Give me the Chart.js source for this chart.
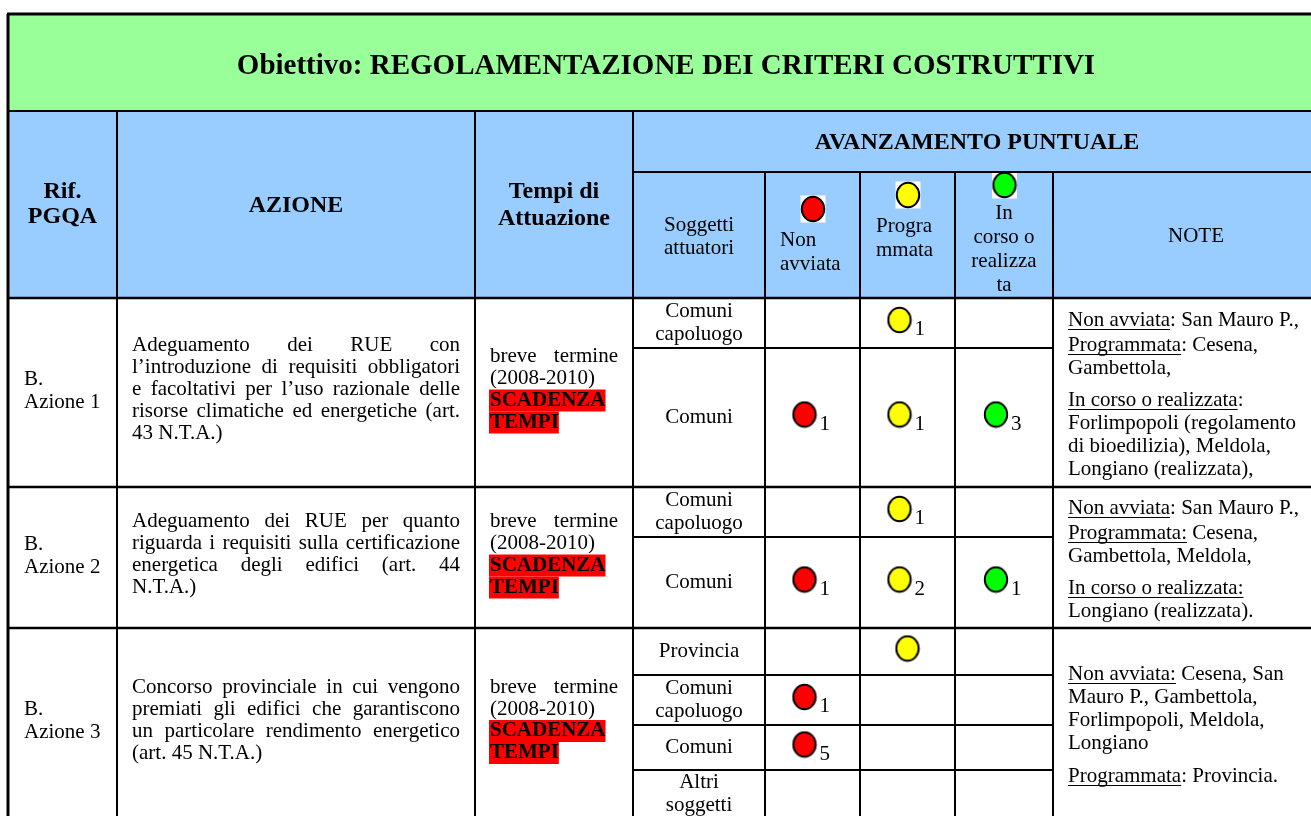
<!DOCTYPE html>
<html lang="it">
<head>
    <meta charset="UTF-8">
    <title>Obiettivo: REGOLAMENTAZIONE DEI CRITERI COSTRUTTIVI</title>
    <script src="https://cdn.jsdelivr.net/npm/chart.js"></script>
    <style>
        html, body { margin: 0; padding: 0; background: #fff; overflow: hidden; }
        .chartBox { width: 1311px; height: 816px; }
    </style>
</head>
<body>

    <div class="chartBox">
        <canvas id="myChart" width="1311" height="816"></canvas>
    </div>

    <script>

        // data block
        const title = 'Obiettivo: REGOLAMENTAZIONE DEI CRITERI COSTRUTTIVI';
        const statuses = ['Non avviata', 'Programmata', 'In corso o realizzata'];
        const statusColors = ['#ff0000', '#ffff00', '#00ff00'];

        const actionRefs = [['B.', 'Azione 1'], ['B.', 'Azione 2'], ['B.', 'Azione 3']];
        const actionTexts = [
            ['Adeguamento dei RUE con', 'l’introduzione di requisiti obbligatori', 'e facoltativi per l’uso razionale delle', 'risorse climatiche ed energetiche (art.', '43 N.T.A.)'],
            ['Adeguamento dei RUE per quanto', 'riguarda i requisiti sulla certificazione', 'energetica degli edifici (art. 44', 'N.T.A.)'],
            ['Concorso provinciale in cui vengono', 'premiati gli edifici che garantiscono', 'un particolare rendimento energetico', '(art. 45 N.T.A.)']
        ];
        const tempi = ['breve termine', '(2008-2010)'];
        const deadline = ['SCADENZA', 'TEMPI'];

        const subjects = [
            [['Comuni', 'capoluogo'], ['Comuni']],
            [['Comuni', 'capoluogo'], ['Comuni']],
            [['Provincia'], ['Comuni', 'capoluogo'], ['Comuni'], ['Altri', 'soggetti']]
        ];

        // number of subjects per status ('' = marked, no number given)
        const nonAvviata  = [[null, 1], [null, 1], [null, 1, 5, null]];
        const programmata = [[1, 1], [1, 2], ['', null, null, null]];
        const inCorso     = [[null, 3], [null, 1], [null, null, null, null]];
        const statusValues = [nonAvviata, programmata, inCorso];

        // notes: paragraphs -> lines -> [underlined part, plain part]
        const notes = [
            [
                [['Non avviata', ': San Mauro P.,']],
                [['Programmata', ': Cesena,'], ['', 'Gambettola,']],
                [['In corso o realizzata', ':'], ['', 'Forlimpopoli (regolamento'], ['', 'di bioedilizia), Meldola,'], ['', 'Longiano (realizzata),']]
            ],
            [
                [['Non avviata', ': San Mauro P.,']],
                [['Programmata:', ' Cesena,'], ['', 'Gambettola, Meldola,']],
                [['In corso o realizzata:', ''], ['', 'Longiano (realizzata).']]
            ],
            [
                [['Non avviata:', ' Cesena, San'], ['', 'Mauro P., Gambettola,'], ['', 'Forlimpopoli, Meldola,'], ['', 'Longiano']],
                [['Programmata', ': Provincia.']]
            ]
        ];

        // layout block (table units = pixels of the page)
        const colX = [8, 117, 475, 633, 765, 860, 955, 1053, 1320];
        const titleBand = [14, 111];
        const headBand = [111, 172, 298];
        const subRowY = [298, 348, 487, 537, 628, 675, 725, 770, 818];
        const noteGaps = [[0, 2, 9], [0, 2, 9], [0, 10]];
        const legendY = [209, 195, 185];
        const serif = '"Liberation Serif", "Times New Roman", serif';
        const fnt = (size, bold) => (bold ? 'bold ' : '') + size + 'px ' + serif;

        // slightly oval traffic-light marker, as in the original document
        function marker(color) {
            const c = document.createElement('canvas');
            c.width = 26;
            c.height = 28;
            const g = c.getContext('2d');
            g.beginPath();
            g.ellipse(13, 14, 11.2, 12.2, 0, 0, Math.PI * 2);
            g.fillStyle = color;
            g.fill();
            g.lineWidth = 2;
            g.strokeStyle = '#000';
            g.stroke();
            return c;
        }
        const markers = statusColors.map(marker);

        // action -> sub rows
        const actionRows = [];
        let r0 = 0;
        subjects.forEach(list => { actionRows.push([r0, r0 + list.length]); r0 += list.length; });

        // build datasets
        const datasets = statuses.map((name, k) => {
            const pts = [];
            statusValues[k].forEach((rows, a) => {
                rows.forEach((v, s) => {
                    if (v === null) return;
                    const row = actionRows[a][0] + s;
                    const cx = (colX[4 + k] + colX[5 + k]) / 2;
                    const cy = (subRowY[row] + subRowY[row + 1]) / 2;
                    pts.push({ x: v === '' ? cx : cx - 8, y: cy - 3, count: v });
                });
            });
            return {
                label: name,
                data: pts,
                pointStyle: markers[k],
                pointRadius: 12,
                pointHoverRadius: 12,
                showLine: false
            };
        });
        datasets.push({
            label: 'legenda',
            data: statuses.map((name, k) => ({ x: (colX[4 + k] + colX[5 + k]) / 2 + 0.5, y: legendY[k], count: '' })),
            pointStyle: markers,
            pointRadius: 12,
            pointHoverRadius: 12
        });

        // table drawing plugin
        const tablePlugin = {
            id: 'tablePlugin',
            beforeDatasetsDraw(chart) {
                const { ctx, scales: { x, y } } = chart;
                const px = v => x.getPixelForValue(v);
                const py = v => y.getPixelForValue(v);
                const right = colX[colX.length - 1];
                const bottom = subRowY[subRowY.length - 1];

                const rect = (x0, y0, x1, y1, c) => {
                    ctx.fillStyle = c;
                    ctx.fillRect(px(x0), py(y0), px(x1) - px(x0), py(y1) - py(y0));
                };
                const line = (x0, y0, x1, y1, w) => {
                    ctx.strokeStyle = '#000';
                    ctx.lineWidth = w;
                    ctx.beginPath();
                    ctx.moveTo(px(x0), py(y0));
                    ctx.lineTo(px(x1), py(y1));
                    ctx.stroke();
                };
                const txt = (s, xx, yy, f, align) => {
                    ctx.font = f;
                    ctx.fillStyle = '#000';
                    ctx.textAlign = align || 'left';
                    ctx.textBaseline = 'middle';
                    ctx.fillText(s, px(xx), py(yy));
                };
                const block = (lines, xx, yc, pitch, f, align) => {
                    const top = yc - (lines.length - 1) * pitch / 2;
                    lines.forEach((s, i) => txt(s, xx, top + i * pitch, f, align));
                };
                const justify = (s, x0, x1, yy, f) => {
                    ctx.font = f;
                    const words = s.split(' ');
                    const total = words.reduce((acc, w) => acc + ctx.measureText(w).width, 0);
                    const gap = (px(x1) - px(x0) - total) / (words.length - 1);
                    let cur = px(x0);
                    words.forEach(w => {
                        ctx.fillStyle = '#000';
                        ctx.textAlign = 'left';
                        ctx.textBaseline = 'middle';
                        ctx.fillText(w, cur, py(yy));
                        cur += ctx.measureText(w).width + gap;
                    });
                };

                ctx.save();
                // backgrounds
                rect(colX[0], titleBand[0], right + 20, titleBand[1], '#99ff99');
                rect(colX[0], headBand[0], right + 20, headBand[2], '#99ccff');

                // title + headers
                txt(title, 666, 67, fnt(29, true), 'center');
                block(['Rif.', 'PGQA'], (colX[0] + colX[1]) / 2, 204, 25, fnt(24, true), 'center');
                txt('AZIONE', (colX[1] + colX[2]) / 2, 206, fnt(24, true), 'center');
                block(['Tempi di', 'Attuazione'], (colX[2] + colX[3]) / 2, 205, 27, fnt(24, true), 'center');
                txt('AVANZAMENTO PUNTUALE', 977, 143, fnt(24, true), 'center');
                block(['Soggetti', 'attuatori'], (colX[3] + colX[4]) / 2, 237, 23, fnt(21), 'center');

                // legend squares and status headers
                statuses.forEach((name, k) => {
                    const cx = (colX[4 + k] + colX[5 + k]) / 2 + 0.5;
                    rect(cx - 12.5, legendY[k] - 13.5, cx + 12.5, legendY[k] + 13.5, '#ffffff');
                });
                block(['Non', 'avviata'], 780, 252, 24, fnt(21), 'left');
                block(['Progra', 'mmata'], 876, 238, 24, fnt(21), 'left');
                block(['In', 'corso o', 'realizza', 'ta'], (colX[6] + colX[7]) / 2, 249, 24, fnt(21), 'center');
                txt('NOTE', 1196, 236, fnt(21), 'center');

                // body rows
                actionRows.forEach((rr, a) => {
                    const yTop = subRowY[rr[0]];
                    const yBot = subRowY[rr[1]];
                    const yc = (yTop + yBot) / 2 - 3;

                    block(actionRefs[a], 24, yc + 1, 23, fnt(21), 'left');

                    const lines = actionTexts[a];
                    const top = yc - (lines.length - 1) * 22 / 2;
                    lines.forEach((s, i) => {
                        if (i < lines.length - 1) justify(s, 132, 460, top + i * 22, fnt(21));
                        else txt(s, 132, top + i * 22, fnt(21), 'left');
                    });

                    // tempi di attuazione
                    const tTop = yc - 3 * 22 / 2;
                    justify(tempi[0], 490, 618, tTop, fnt(21));
                    txt(tempi[1], 490, tTop + 22, fnt(21), 'left');
                    deadline.forEach((s, i) => {
                        const yy = tTop + (i + 2) * 22;
                        ctx.font = fnt(21, true);
                        const w = ctx.measureText(s).width;
                        rect(489, yy - 11, 489 + w + 1, yy + 11, '#ff0000');
                        txt(s, 490, yy, fnt(21, true), 'left');
                    });

                    // subjects
                    subjects[a].forEach((lab, s) => {
                        const row = rr[0] + s;
                        block(lab, (colX[3] + colX[4]) / 2, (subRowY[row] + subRowY[row + 1]) / 2, 23, fnt(21), 'center');
                    });

                    // notes
                    const paras = notes[a];
                    const nLines = paras.reduce((acc, p) => acc + p.length, 0);
                    const gaps = noteGaps[a];
                    const height = (nLines - 1) * 23 + gaps.reduce((acc, g) => acc + g, 0);
                    let ny = (yTop + yBot) / 2 - height / 2 + 2;
                    paras.forEach((p, pi) => {
                        ny += gaps[pi];
                        p.forEach(([u, rest]) => {
                            ctx.font = fnt(21);
                            const uw = ctx.measureText(u).width;
                            if (u) {
                                txt(u, 1068, ny, fnt(21), 'left');
                                ctx.fillStyle = '#000';
                                ctx.fillRect(px(1068), py(ny + 9), uw, 1);
                            }
                            txt(rest, 1068 + uw, ny, fnt(21), 'left');
                            ny += 23;
                        });
                    });
                });

                // grid
                line(colX[0] - 1, titleBand[0], right + 20, titleBand[0], 3);
                line(colX[0], titleBand[0], colX[0], bottom + 5, 3);
                line(colX[0], titleBand[1], right + 20, titleBand[1], 2);
                [1, 2, 3].forEach(i => line(colX[i], headBand[0], colX[i], bottom + 5, 2));
                line(colX[3], headBand[1], right + 20, headBand[1], 2);
                [4, 5, 6, 7].forEach(i => line(colX[i], headBand[1], colX[i], bottom + 5, 2));
                line(colX[0], headBand[2], right + 20, headBand[2], 2.5);
                actionRows.forEach(rr => {
                    line(colX[0], subRowY[rr[1]], right + 20, subRowY[rr[1]], 2.5);
                    for (let r = rr[0] + 1; r < rr[1]; r++) line(colX[3], subRowY[r], colX[7], subRowY[r], 2);
                });
                ctx.restore();
            },
            afterDatasetsDraw(chart) {
                const { ctx } = chart;
                ctx.save();
                chart.data.datasets.forEach((ds, i) => {
                    const meta = chart.getDatasetMeta(i);
                    meta.data.forEach((el, j) => {
                        const v = ds.data[j].count;
                        if (v === '' || v === null) return;
                        ctx.font = fnt(21);
                        ctx.fillStyle = '#000';
                        ctx.textAlign = 'left';
                        ctx.textBaseline = 'alphabetic';
                        ctx.fillText(String(v), el.x + 15, el.y + 15);
                    });
                });
                ctx.restore();
            }
        };

        // config block
        const config = {
            type: 'scatter',
            data: { datasets },
            options: {
                responsive: false,
                devicePixelRatio: 1,
                animation: false,
                events: [],
                layout: { padding: 0, autoPadding: false },
                plugins: { legend: { display: false }, tooltip: { enabled: false } },
                scales: {
                    x: { type: 'linear', min: 0, max: 1311, display: false },
                    y: { type: 'linear', min: 0, max: 816, reverse: true, display: false }
                }
            },
            plugins: [tablePlugin]
        };

        // render block
        const myChart = new Chart(document.getElementById('myChart'), config);

    </script>

</body>
</html>
